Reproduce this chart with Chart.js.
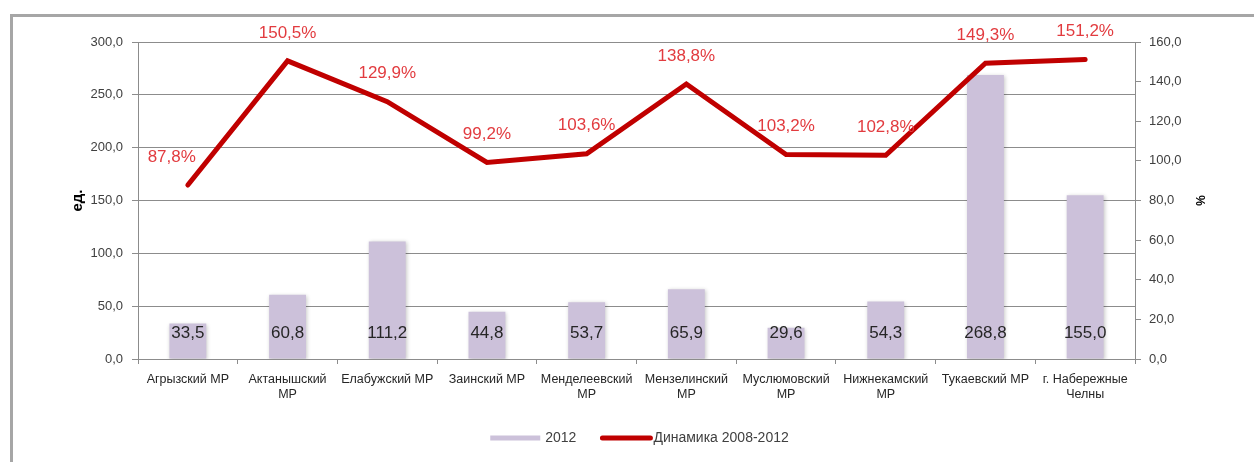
<!DOCTYPE html>
<html><head><meta charset="utf-8">
<script src="https://cdn.jsdelivr.net/npm/chart.js@4/dist/chart.umd.min.js"></script>
<style>
html,body{margin:0;padding:0;background:#fff;}
#wrap{position:relative;width:1254px;height:462px;overflow:hidden;}
#frame{position:absolute;left:10px;top:14px;width:1300px;height:500px;border-left:3px solid #a6a6a6;border-top:3px solid #a6a6a6;box-sizing:border-box;}
canvas{position:absolute;left:0;top:0;}
</style></head>
<body><div id="wrap"><div id="frame"></div><canvas id="c" width="1254" height="462"></canvas></div>
<script>
const categories = [["Агрызский МР"],["Актанышский","МР"],["Елабужский МР"],["Заинский МР"],["Менделеевский","МР"],["Мензелинский","МР"],["Муслюмовский","МР"],["Нижнекамский","МР"],["Тукаевский МР"],["г. Набережные","Челны"]];
const values2012 = [33.5, 60.8, 111.2, 44.8, 53.7, 65.9, 29.6, 54.3, 268.8, 155.0];
const dynamics = [87.8, 150.5, 129.9, 99.2, 103.6, 138.8, 103.2, 102.8, 149.3, 151.2];
const seriesNames = ["2012", "Динамика 2008-2012"];
const leftTitle = "ед.";
const rightTitle = "%";

const FONT = "'Liberation Sans', Arial, sans-serif";
const fmt = v => v.toFixed(1).replace('.', ',');
const BAR = '#ccc1da', LINE = '#c00000', GRID = '#8c8c8c';

const shadowPlugin = {
  id: 'barShadow',
  beforeDatasetDraw(chart, args) {
    if (args.index === 0) {
      const c = chart.ctx; c.save();
      c.shadowColor = 'rgba(0,0,0,0.22)'; c.shadowBlur = 4; c.shadowOffsetX = 1; c.shadowOffsetY = 1;
    }
  },
  afterDatasetDraw(chart, args) { if (args.index === 0) chart.ctx.restore(); }
};

const labelsPlugin = {
  id: 'valueLabels',
  afterDatasetsDraw(chart) {
    const c = chart.ctx, area = chart.chartArea;
    c.save();
    c.textBaseline = 'middle';
    c.font = '17px ' + FONT;
    c.fillStyle = '#262626';
    c.textAlign = 'center';
    chart.getDatasetMeta(0).data.forEach((el, i) => {
      c.fillText(fmt(values2012[i]), el.x, area.bottom - 26);
    });
    c.fillStyle = '#e23b3f';
    chart.getDatasetMeta(1).data.forEach((el, i) => {
      if (i === 0) { c.textAlign = 'right'; c.fillText(fmt(dynamics[i]) + '%', el.x + 8, el.y - 28); }
      else { c.textAlign = 'center'; c.fillText(fmt(dynamics[i]) + '%', el.x, el.y - 28); }
    });
    c.restore();
  }
};

const legendPlugin = {
  id: 'customLegend',
  afterDraw(chart) {
    const c = chart.ctx, area = chart.chartArea;
    c.save();
    c.font = '14px ' + FONT;
    c.textBaseline = 'middle';
    c.textAlign = 'left';
    const y = 438;
    const t1 = c.measureText(seriesNames[0]).width, t2 = c.measureText(seriesNames[1]).width;
    const total = 50 + 5 + t1 + 24 + 50 + 3 + t2;
    let x = (area.left + area.right) / 2 + 3 - total / 2;
    c.fillStyle = BAR;
    c.fillRect(x, y - 2.5, 50, 5);
    c.fillStyle = '#404040';
    c.fillText(seriesNames[0], x + 55, y);
    x += 55 + t1 + 24;
    c.strokeStyle = LINE; c.lineWidth = 5; c.lineCap = 'round';
    c.beginPath(); c.moveTo(x + 2, y); c.lineTo(x + 50, y); c.stroke();
    c.fillText(seriesNames[1], x + 53, y);
    c.restore();
  }
};

new Chart(document.getElementById('c'), {
  type: 'bar',
  data: {
    labels: categories,
    datasets: [
      { label: seriesNames[0], data: values2012, backgroundColor: BAR, yAxisID: 'y', order: 1,
        categoryPercentage: 1, barPercentage: 0.37 },
      { label: seriesNames[1], type: 'line', data: dynamics, borderColor: LINE, backgroundColor: LINE,
        borderWidth: 5, pointRadius: 0, tension: 0, yAxisID: 'y1', order: 0, borderCapStyle: 'round' }
    ]
  },
  options: {
    responsive: false, animation: false, devicePixelRatio: 1,
    layout: { padding: { top: 42, left: 0, right: 0, bottom: 0 } },
    plugins: { legend: { display: false }, tooltip: { enabled: false } },
    scales: {
      x: {
        grid: { display: true, drawOnChartArea: false, tickLength: 5, color: GRID, offset: true },
        border: { color: GRID },
        ticks: { font: { family: FONT, size: 12.5 }, color: '#262626', padding: 8, maxRotation: 0, autoSkip: false },
        afterFit(s) { s.height = 103; }
      },
      y: {
        position: 'left', min: 0, max: 300,
        ticks: { stepSize: 50, callback: v => fmt(v), font: { family: FONT, size: 13 }, color: '#404040', padding: 9 },
        grid: { color: GRID, tickLength: 6 },
        border: { color: GRID },
        title: { display: true, text: leftTitle, font: { family: FONT, size: 15, weight: 'bold' }, color: '#000', padding: { top: 69, bottom: 0 } },
        afterFit(s) { s.width = 138; }
      },
      y1: {
        position: 'right', min: 0, max: 160,
        ticks: { stepSize: 20, callback: v => fmt(v), font: { family: FONT, size: 13 }, color: '#404040', padding: 8 },
        grid: { drawOnChartArea: false, color: GRID, tickLength: 6 },
        border: { color: GRID },
        title: { display: true, text: rightTitle, font: { family: FONT, size: 12, weight: 'bold' }, color: '#000', padding: { top: 47, bottom: 0 } },
        afterFit(s) { s.width = 119; }
      }
    }
  },
  plugins: [shadowPlugin, labelsPlugin, legendPlugin]
});
</script>
</body></html>
